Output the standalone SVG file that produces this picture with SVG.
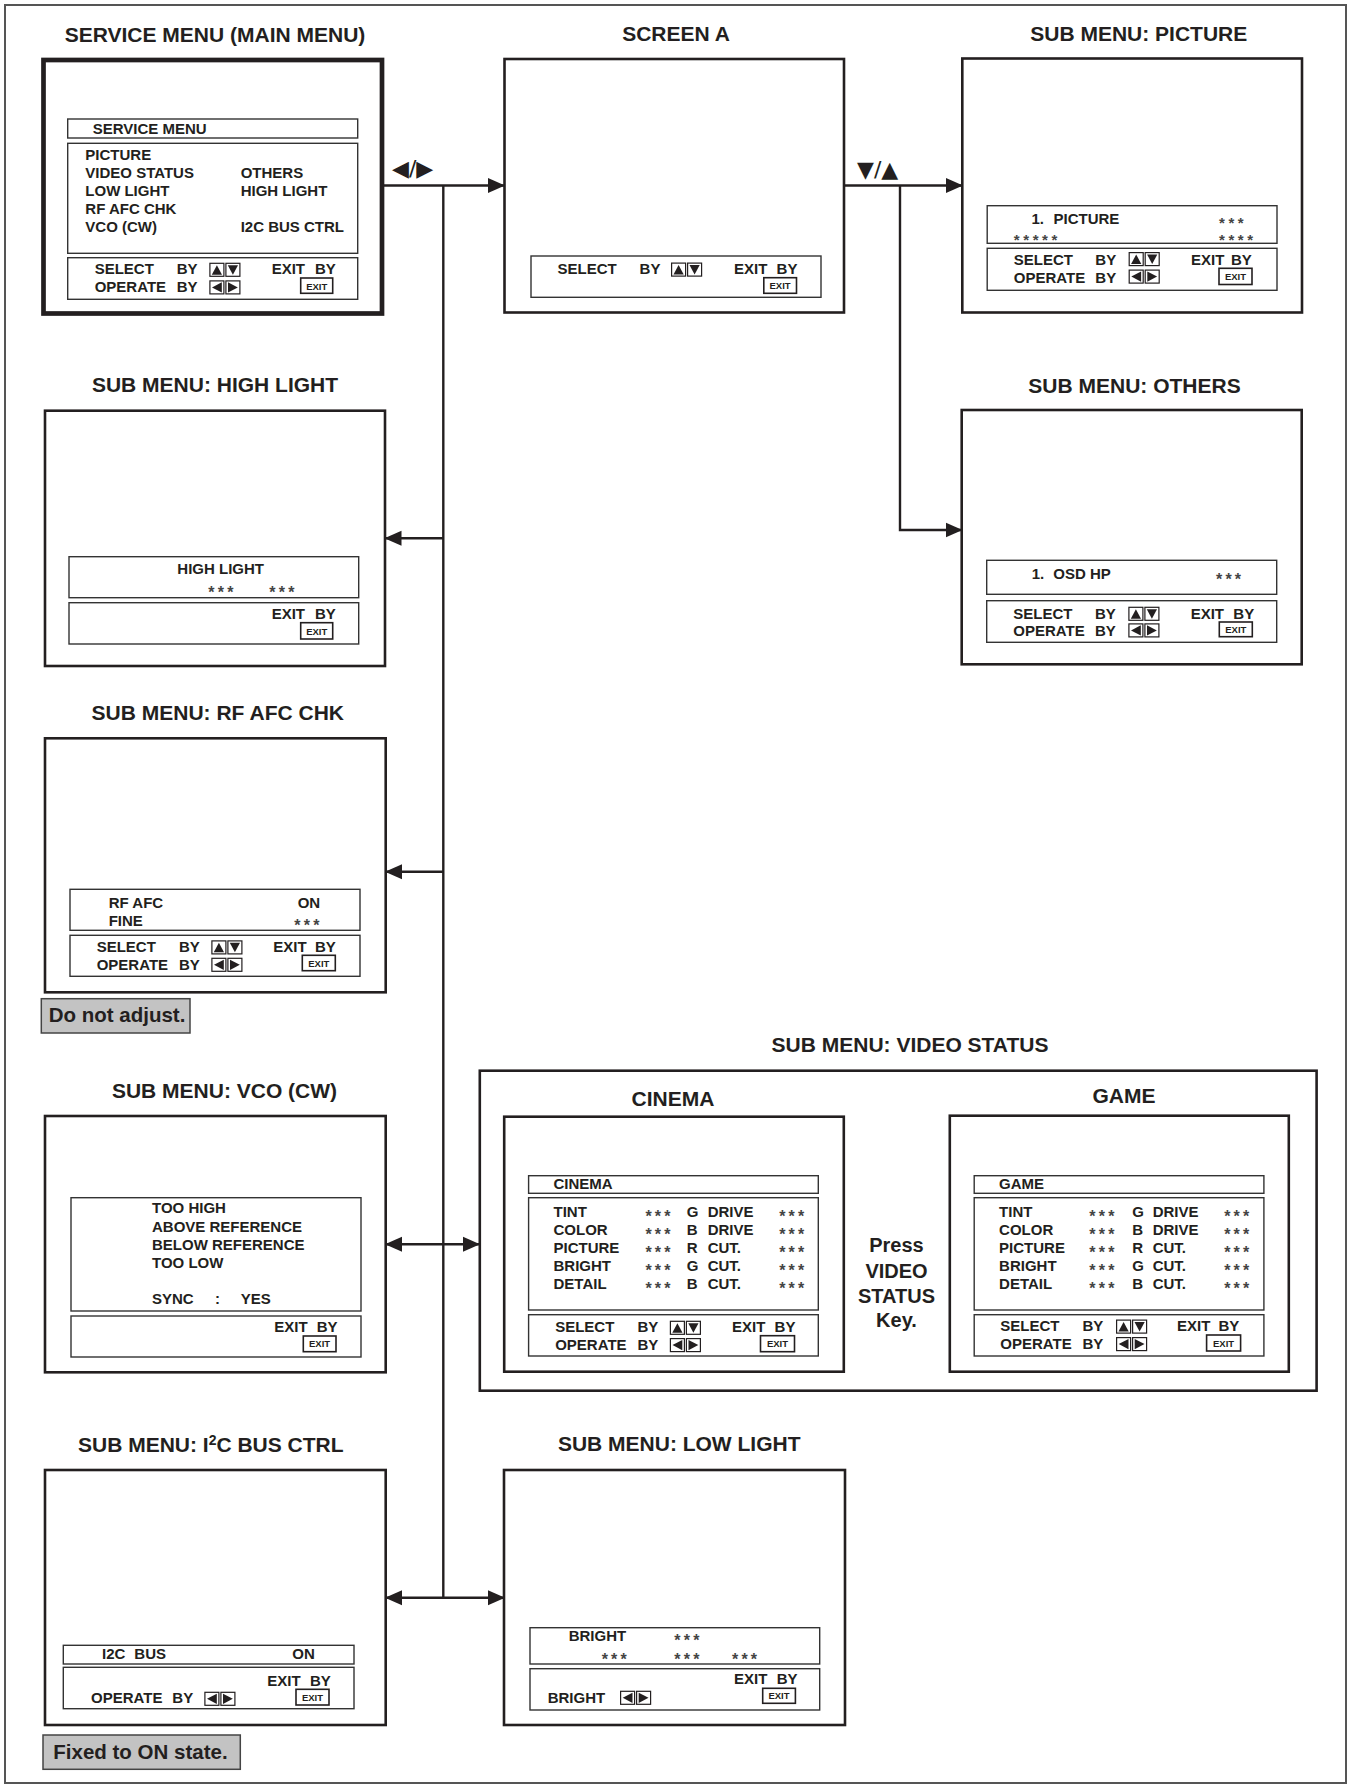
<svg xmlns="http://www.w3.org/2000/svg" xmlns:xlink="http://www.w3.org/1999/xlink" width="1349" height="1786" viewBox="0 0 1349 1786">
<style>
text{font-family:"Liberation Sans",Arial,sans-serif;font-weight:bold;fill:#231f20}
.t{font-size:21px;text-anchor:middle}
.p{font-size:15px}
.x{font-size:9.5px;text-anchor:middle}
.ast{font-size:16px;letter-spacing:3.2px;fill:#444}
.ast2{font-size:15px;letter-spacing:3.6px;fill:#444}
.box{fill:#fff;stroke:#231f20;stroke-width:2.6}
.thick{fill:#fff;stroke:#231f20;stroke-width:4.7}
.pan{fill:none;stroke:#333;stroke-width:1.4}
.xb{fill:#fff;stroke:#231f20;stroke-width:1.6}
.ic{fill:#fff;stroke:#231f20;stroke-width:1.2}
.con{stroke:#231f20;stroke-width:2.4;fill:none}
.thin{stroke:#231f20;stroke-width:1.8;fill:none}
.note{fill:#c3c3c3;stroke:#444;stroke-width:1.5}
.nt{font-size:20.5px}
.tri{font-family:"DejaVu Sans",sans-serif;font-size:22px;font-weight:normal}
.ps{font-size:20px;text-anchor:middle}
</style>
<defs>
<marker id="ah" viewBox="0 0 17 16" refX="16" refY="8" markerWidth="17" markerHeight="16" markerUnits="userSpaceOnUse" orient="auto-start-reverse"><path d="M0,0.5 L17,8 L0,15.5 Z" fill="#231f20"/></marker>
<marker id="ahs" viewBox="0 0 12 10" refX="11" refY="5" markerWidth="12" markerHeight="10" markerUnits="userSpaceOnUse" orient="auto-start-reverse"><path d="M0,0 L12,5 L0,10 Z" fill="#231f20"/></marker>
<g id="ud"><rect x="0.6" y="0.6" width="14" height="13" class="ic"/><path d="M2.5,12 L7.6,2.5 L12.7,12 Z" fill="#231f20"/><rect x="16.6" y="0.6" width="14" height="13" class="ic"/><path d="M18.5,2.5 L28.7,2.5 L23.6,12 Z" fill="#231f20"/></g>
<g id="lr"><rect x="0.6" y="0.6" width="14" height="13" class="ic"/><path d="M12.5,2 L12.5,12.2 L2.7,7.1 Z" fill="#231f20"/><rect x="16.6" y="0.6" width="14" height="13" class="ic"/><path d="M18.7,2 L18.7,12.2 L28.5,7.1 Z" fill="#231f20"/></g>
</defs>
<rect x="0" y="0" width="1349" height="1786" fill="#fff"/>
<rect x="5" y="5" width="1341" height="1778" fill="none" stroke="#555" stroke-width="2"/>

<g id="connectors">
<line class="con" x1="384" y1="185.5" x2="504" y2="185.5" marker-end="url(#ah)"/>
<line class="con" x1="443.3" y1="185.5" x2="443.3" y2="1597.7"/>
<line class="con" x1="443.3" y1="538.3" x2="385.5" y2="538.3" marker-end="url(#ah)"/>
<line class="con" x1="443.3" y1="871.7" x2="386" y2="871.7" marker-end="url(#ah)"/>
<line class="con" x1="386" y1="1244.3" x2="479" y2="1244.3" marker-start="url(#ah)" marker-end="url(#ah)"/>
<line class="con" x1="386" y1="1597.7" x2="504" y2="1597.7" marker-start="url(#ah)" marker-end="url(#ah)"/>
<line class="con" x1="844" y1="185.5" x2="962" y2="185.5" marker-end="url(#ah)"/>
<polyline class="con" points="900,185.5 900,530 961.5,530" marker-end="url(#ah)"/>
<line class="thin" x1="847" y1="1227.3" x2="949" y2="1227.3" marker-start="url(#ahs)" marker-end="url(#ahs)"/>
<text class="tri" x="392" y="176">◀/▶</text>
<text class="tri" x="857" y="176.5">▼/▲</text>
</g>

<g id="main-menu">
<text class="t" x="215" y="41.7">SERVICE MENU (MAIN MENU)</text>
<rect class="thick" x="43.5" y="60" width="338.5" height="253.5"/>
<rect class="pan" x="67.7" y="119" width="290" height="19"/>
<text class="p" x="92.7" y="134.3">SERVICE MENU</text>
<rect class="pan" x="67.7" y="143.3" width="290" height="110"/>
<text class="p" x="85.3" y="160">PICTURE</text>
<text class="p" x="85.3" y="178">VIDEO STATUS</text>
<text class="p" x="85.3" y="196">LOW LIGHT</text>
<text class="p" x="85.3" y="214">RF AFC CHK</text>
<text class="p" x="85.3" y="231.5">VCO (CW)</text>
<text class="p" x="240.7" y="178">OTHERS</text>
<text class="p" x="240.7" y="196">HIGH LIGHT</text>
<text class="p" x="240.7" y="231.5">I2C BUS CTRL</text>
<rect class="pan" x="67.7" y="257.7" width="290" height="41.6"/>
<text class="p" x="94.7" y="274">SELECT</text>
<text class="p" x="176.7" y="274">BY</text>
<use href="#ud" x="209.3" y="262.7"/>
<text class="p" x="271.7" y="274">EXIT</text>
<text class="p" x="315" y="274">BY</text>
<text class="p" x="94.7" y="292">OPERATE</text>
<text class="p" x="176.7" y="292">BY</text>
<use href="#lr" x="209.3" y="280.3"/>
<rect class="xb" x="300.7" y="278" width="32" height="15.3"/>
<text class="x" x="316.7" y="289.5">EXIT</text>
</g>

<g id="screen-a">
<text class="t" x="676" y="40.7">SCREEN A</text>
<rect class="box" x="504.5" y="59" width="339.5" height="253.5"/>
<rect class="pan" x="531" y="256" width="290" height="41.3"/>
<text class="p" x="557.6" y="274">SELECT</text>
<text class="p" x="639.6" y="274">BY</text>
<use href="#ud" x="671" y="262.5"/>
<text class="p" x="734" y="274">EXIT</text>
<text class="p" x="776.6" y="274">BY</text>
<rect class="xb" x="763.8" y="277.7" width="32.7" height="15.6"/>
<text class="x" x="780.1" y="289.3">EXIT</text>
</g>

<g id="sub-picture">
<text class="t" x="1138.8" y="41">SUB MENU: PICTURE</text>
<rect class="box" x="962.3" y="58.5" width="339.7" height="254"/>
<rect class="pan" x="987.2" y="205.7" width="289.8" height="37.6"/>
<text class="p" x="1031.5" y="224">1.</text>
<text class="p" x="1053.5" y="224">PICTURE</text>
<text class="ast2" x="1219" y="227.6">***</text>
<text class="ast2" x="1013.8" y="244.6">*****</text>
<text class="ast2" x="1219" y="244.6">****</text>
<rect class="pan" x="987.2" y="248.3" width="289.8" height="42"/>
<text class="p" x="1013.8" y="265">SELECT</text>
<text class="p" x="1095.3" y="265">BY</text>
<use href="#ud" x="1128.6" y="252"/>
<text class="p" x="1191" y="265">EXIT</text>
<text class="p" x="1231" y="265">BY</text>
<text class="p" x="1013.8" y="282.7">OPERATE</text>
<text class="p" x="1095.3" y="282.7">BY</text>
<use href="#lr" x="1128.6" y="269.5"/>
<rect class="xb" x="1219" y="268.3" width="33" height="16.2"/>
<text class="x" x="1235.5" y="280.2">EXIT</text>
</g>

<g id="sub-others">
<text class="t" x="1134.5" y="393.3">SUB MENU: OTHERS</text>
<rect class="box" x="961.7" y="410" width="340" height="254.3"/>
<rect class="pan" x="986.7" y="560.3" width="290" height="34"/>
<text class="p" x="1031.7" y="579.3">1.</text>
<text class="p" x="1053.3" y="579.3">OSD HP</text>
<text class="ast" x="1216" y="584.5">***</text>
<rect class="pan" x="986.7" y="600.7" width="290" height="41.6"/>
<text class="p" x="1013.3" y="618.7">SELECT</text>
<text class="p" x="1095" y="618.7">BY</text>
<use href="#ud" x="1128.3" y="606.7"/>
<text class="p" x="1190.7" y="618.7">EXIT</text>
<text class="p" x="1233.3" y="618.7">BY</text>
<text class="p" x="1013.3" y="636">OPERATE</text>
<text class="p" x="1095" y="636">BY</text>
<use href="#lr" x="1128.3" y="623.3"/>
<rect class="xb" x="1219.3" y="622" width="33" height="14.7"/>
<text class="x" x="1235.8" y="633">EXIT</text>
</g>

<g id="sub-high-light">
<text class="t" x="215" y="391.7">SUB MENU: HIGH LIGHT</text>
<rect class="box" x="45" y="410.7" width="340" height="255.3"/>
<rect class="pan" x="69" y="556.7" width="289.7" height="41"/>
<text class="p" x="177.3" y="574.3">HIGH LIGHT</text>
<text class="ast" x="208.3" y="597.5">***</text>
<text class="ast" x="269.3" y="597.5">***</text>
<rect class="pan" x="69" y="602.7" width="289.7" height="41.3"/>
<text class="p" x="271.7" y="619">EXIT</text>
<text class="p" x="315" y="619">BY</text>
<rect class="xb" x="300.7" y="622.7" width="32" height="16.3"/>
<text class="x" x="316.7" y="634.6">EXIT</text>
</g>

<g id="sub-rf-afc-chk">
<text class="t" x="217.8" y="720">SUB MENU: RF AFC CHK</text>
<rect class="box" x="45" y="738.3" width="340.7" height="254"/>
<rect class="pan" x="70" y="889.3" width="290" height="41"/>
<text class="p" x="108.7" y="907.7">RF AFC</text>
<text class="p" x="297.7" y="907.7">ON</text>
<text class="p" x="108.7" y="925.7">FINE</text>
<text class="ast" x="294.3" y="930.9">***</text>
<rect class="pan" x="70" y="935.3" width="290" height="41"/>
<text class="p" x="96.7" y="952.3">SELECT</text>
<text class="p" x="179" y="952.3">BY</text>
<use href="#ud" x="211.3" y="940.3"/>
<text class="p" x="273.3" y="952.3">EXIT</text>
<text class="p" x="315" y="952.3">BY</text>
<text class="p" x="96.7" y="970">OPERATE</text>
<text class="p" x="179" y="970">BY</text>
<use href="#lr" x="211.3" y="957.7"/>
<rect class="xb" x="302.3" y="955.3" width="33" height="15.4"/>
<text class="x" x="318.8" y="966.5">EXIT</text>
</g>
<g id="note-do-not-adjust">
<rect class="note" x="41.3" y="998.7" width="148.7" height="34.3"/>
<text class="nt" x="48.7" y="1022.3">Do not adjust.</text>
</g>

<g id="sub-vco">
<text class="t" x="224.5" y="1098.3">SUB MENU: VCO (CW)</text>
<rect class="box" x="45" y="1116" width="340.7" height="256.3"/>
<rect class="pan" x="71" y="1197.7" width="290" height="113.3"/>
<text class="p" x="152" y="1213.3">TOO HIGH</text>
<text class="p" x="152" y="1231.7">ABOVE REFERENCE</text>
<text class="p" x="152" y="1250">BELOW REFERENCE</text>
<text class="p" x="152" y="1268.3">TOO LOW</text>
<text class="p" x="152" y="1304">SYNC</text>
<text class="p" x="215" y="1304">:</text>
<text class="p" x="240.7" y="1304">YES</text>
<rect class="pan" x="71" y="1316" width="290" height="41"/>
<text class="p" x="274.3" y="1332.3">EXIT</text>
<text class="p" x="316.7" y="1332.3">BY</text>
<rect class="xb" x="303.3" y="1336" width="32.7" height="15.7"/>
<text class="x" x="319.6" y="1347.3">EXIT</text>
</g>

<g id="sub-i2c-bus-ctrl">
<text class="t" x="210.8" y="1451.7">SUB MENU: I<tspan font-size="14" dy="-7">2</tspan><tspan dy="7">C BUS CTRL</tspan></text>
<rect class="box" x="45" y="1470" width="340.7" height="255"/>
<rect class="pan" x="63.3" y="1645.3" width="290.7" height="18.7"/>
<text class="p" x="102" y="1659.3">I2C</text>
<text class="p" x="134.3" y="1659.3">BUS</text>
<text class="p" x="292.3" y="1659.3">ON</text>
<rect class="pan" x="63.3" y="1667.3" width="290.7" height="41.4"/>
<text class="p" x="267.3" y="1686">EXIT</text>
<text class="p" x="310" y="1686">BY</text>
<text class="p" x="91" y="1702.7">OPERATE</text>
<text class="p" x="172.3" y="1702.7">BY</text>
<use href="#lr" x="204.3" y="1691.7"/>
<rect class="xb" x="296" y="1689.3" width="33" height="15.7"/>
<text class="x" x="312.5" y="1700.6">EXIT</text>
</g>
<g id="note-fixed-on">
<rect class="note" x="43" y="1735" width="197.3" height="34.3"/>
<text class="nt" x="53.3" y="1759.3">Fixed to ON state.</text>
</g>

<g id="sub-low-light">
<text class="t" x="679.2" y="1451">SUB MENU: LOW LIGHT</text>
<rect class="box" x="504" y="1470" width="341" height="255"/>
<rect class="pan" x="530" y="1627.7" width="289.7" height="36.3"/>
<text class="p" x="568.7" y="1641">BRIGHT</text>
<text class="ast" x="674.3" y="1646.2">***</text>
<text class="ast" x="601.7" y="1664.5">***</text>
<text class="ast" x="674.3" y="1664.5">***</text>
<text class="ast" x="732" y="1664.5">***</text>
<rect class="pan" x="530" y="1668.7" width="289.7" height="41.3"/>
<text class="p" x="734" y="1684">EXIT</text>
<text class="p" x="776.7" y="1684">BY</text>
<text class="p" x="547.7" y="1702.7">BRIGHT</text>
<use href="#lr" x="620" y="1690.7"/>
<rect class="xb" x="762.7" y="1688.3" width="32.7" height="15"/>
<text class="x" x="779" y="1699.4">EXIT</text>
</g>

<g id="sub-video-status">
<text class="t" x="910" y="1052.3">SUB MENU: VIDEO STATUS</text>
<rect class="box" x="479.8" y="1070.7" width="836.8" height="320"/>
<text class="ps" x="896.5" y="1252.3">Press</text>
<text class="ps" x="896.5" y="1277.7">VIDEO</text>
<text class="ps" x="896.5" y="1303.3">STATUS</text>
<text class="ps" x="896.5" y="1327.3">Key.</text>
</g>

<g id="cinema">
<text class="t" x="673" y="1105.7">CINEMA</text>
<rect class="box" x="504.2" y="1116.7" width="339.6" height="255"/>
<rect class="pan" x="528.6" y="1175.7" width="289.7" height="17.6"/>
<text class="p" x="553.5" y="1189.3">CINEMA</text>
<rect class="pan" x="528.6" y="1197.7" width="289.7" height="112.3"/>
<text class="p" x="553.5" y="1217.2">TINT</text>
<text class="p" x="553.5" y="1235.2">COLOR</text>
<text class="p" x="553.5" y="1253.2">PICTURE</text>
<text class="p" x="553.5" y="1271.2">BRIGHT</text>
<text class="p" x="553.5" y="1289.2">DETAIL</text>
<text class="ast" x="645.4" y="1222.4">***</text>
<text class="ast" x="645.4" y="1240.4">***</text>
<text class="ast" x="645.4" y="1258.4">***</text>
<text class="ast" x="645.4" y="1276.4">***</text>
<text class="ast" x="645.4" y="1294.4">***</text>
<text class="p" x="686.8" y="1217.2">G</text>
<text class="p" x="686.8" y="1235.2">B</text>
<text class="p" x="686.8" y="1253.2">R</text>
<text class="p" x="686.8" y="1271.2">G</text>
<text class="p" x="686.8" y="1289.2">B</text>
<text class="p" x="707.7" y="1217.2">DRIVE</text>
<text class="p" x="707.7" y="1235.2">DRIVE</text>
<text class="p" x="707.7" y="1253.2">CUT.</text>
<text class="p" x="707.7" y="1271.2">CUT.</text>
<text class="p" x="707.7" y="1289.2">CUT.</text>
<text class="ast" x="779.2" y="1222.4">***</text>
<text class="ast" x="779.2" y="1240.4">***</text>
<text class="ast" x="779.2" y="1258.4">***</text>
<text class="ast" x="779.2" y="1276.4">***</text>
<text class="ast" x="779.2" y="1294.4">***</text>
<rect class="pan" x="528.6" y="1314.7" width="289.7" height="41.3"/>
<text class="p" x="555.2" y="1331.7">SELECT</text>
<text class="p" x="637.4" y="1331.7">BY</text>
<use href="#ud" x="669.8" y="1320.7"/>
<text class="p" x="732" y="1331.7">EXIT</text>
<text class="p" x="774.6" y="1331.7">BY</text>
<text class="p" x="555.2" y="1349.5">OPERATE</text>
<text class="p" x="637.4" y="1349.5">BY</text>
<use href="#lr" x="669.8" y="1338"/>
<rect class="xb" x="760.5" y="1335.7" width="34" height="16"/>
<text class="x" x="777.5" y="1347.3">EXIT</text>
</g>

<g id="game">
<text class="t" x="1124" y="1103.3">GAME</text>
<rect class="box" x="949.8" y="1115.7" width="339" height="256"/>
<rect class="pan" x="974.2" y="1175.7" width="289.7" height="17.6"/>
<text class="p" x="999.1" y="1189.3">GAME</text>
<rect class="pan" x="974.2" y="1197.7" width="289.7" height="112.3"/>
<text class="p" x="999.1" y="1216.7">TINT</text>
<text class="p" x="999.1" y="1234.7">COLOR</text>
<text class="p" x="999.1" y="1252.7">PICTURE</text>
<text class="p" x="999.1" y="1270.7">BRIGHT</text>
<text class="p" x="999.1" y="1288.7">DETAIL</text>
<text class="ast" x="1089.3" y="1222.4">***</text>
<text class="ast" x="1089.3" y="1240.4">***</text>
<text class="ast" x="1089.3" y="1258.4">***</text>
<text class="ast" x="1089.3" y="1276.4">***</text>
<text class="ast" x="1089.3" y="1294.4">***</text>
<text class="p" x="1132.3" y="1216.7">G</text>
<text class="p" x="1132.3" y="1234.7">B</text>
<text class="p" x="1132.3" y="1252.7">R</text>
<text class="p" x="1132.3" y="1270.7">G</text>
<text class="p" x="1132.3" y="1288.7">B</text>
<text class="p" x="1152.7" y="1216.7">DRIVE</text>
<text class="p" x="1152.7" y="1234.7">DRIVE</text>
<text class="p" x="1152.7" y="1252.7">CUT.</text>
<text class="p" x="1152.7" y="1270.7">CUT.</text>
<text class="p" x="1152.7" y="1288.7">CUT.</text>
<text class="ast" x="1224.2" y="1222.4">***</text>
<text class="ast" x="1224.2" y="1240.4">***</text>
<text class="ast" x="1224.2" y="1258.4">***</text>
<text class="ast" x="1224.2" y="1276.4">***</text>
<text class="ast" x="1224.2" y="1294.4">***</text>
<rect class="pan" x="974.2" y="1314.7" width="289.7" height="41.3"/>
<text class="p" x="1000.3" y="1330.5">SELECT</text>
<text class="p" x="1082.4" y="1330.5">BY</text>
<use href="#ud" x="1116" y="1319.5"/>
<text class="p" x="1177" y="1330.5">EXIT</text>
<text class="p" x="1218.5" y="1330.5">BY</text>
<text class="p" x="1000.3" y="1348.5">OPERATE</text>
<text class="p" x="1082.4" y="1348.5">BY</text>
<use href="#lr" x="1116" y="1337"/>
<rect class="xb" x="1206.6" y="1335" width="34" height="16"/>
<text class="x" x="1223.6" y="1346.6">EXIT</text>
</g>
</svg>
